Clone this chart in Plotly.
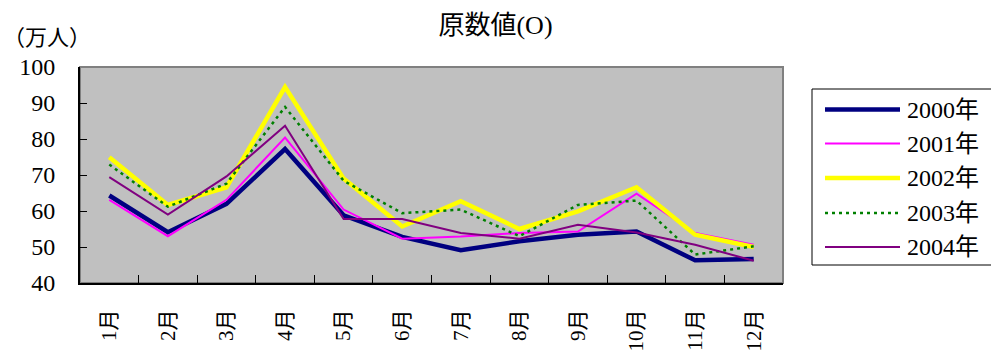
import plotly.graph_objects as go

# Monthly visitor counts (unit: 10,000 people)
months = ["1月", "2月", "3月", "4月", "5月", "6月", "7月", "8月", "9月", "10月", "11月", "12月"]
y2000 = [64.3, 54.1, 62.0, 77.2, 58.8, 52.8, 49.1, 51.6, 53.4, 54.3, 46.3, 46.7]
y2001 = [63.1, 53.0, 63.1, 80.4, 60.4, 52.3, 52.9, 53.9, 54.3, 64.8, 53.9, 50.6]
y2002 = [74.9, 61.7, 66.6, 94.4, 69.0, 55.7, 62.7, 55.0, 59.9, 66.6, 53.4, 50.0]
y2003 = [72.9, 61.2, 67.6, 88.9, 68.4, 59.4, 60.4, 53.0, 61.7, 62.9, 47.9, 50.2]
y2004 = [69.4, 59.0, 69.6, 83.7, 57.8, 57.8, 53.9, 52.3, 56.2, 54.0, 50.6, 46.2]
series_names = ["2000年", "2001年", "2002年", "2003年", "2004年"]
y_ticks = [40, 50, 60, 70, 80, 90, 100]

FONT = "Liberation Serif, 'Noto Sans CJK JP', serif"

styles = [
    dict(color="#000080", width=4.5, dash="solid"),
    dict(color="#FF00FF", width=2, dash="solid"),
    dict(color="#FFFF00", width=4.5, dash="solid"),
    dict(color="#008000", width=2.5, dash="3px,4px"),
    dict(color="#800080", width=2, dash="solid"),
]

W, H = 991, 356
L, R, T, B = 80, 208, 67, 73
PW, PH = W - L - R, H - T - B


def px_x(px):
    return (px - L) / PW


def px_y(py):
    return (H - B - py) / PH


fig = go.Figure()
for name, vals, st in zip(series_names, [y2000, y2001, y2002, y2003, y2004], styles):
    fig.add_trace(go.Scatter(x=months, y=vals, mode="lines", name=name,
                             line=st, showlegend=False))

shapes = [
    # plot frame (grey top/right edges)
    dict(type="rect", xref="paper", yref="paper", x0=0, x1=1, y0=0, y1=1,
         line=dict(color="#808080", width=2), fillcolor="#C0C0C0", layer="below"),
    # legend box
    dict(type="rect", xref="paper", yref="paper",
         x0=px_x(812), x1=px_x(1000), y0=px_y(265), y1=px_y(89),
         line=dict(color="black", width=1), fillcolor="white", layer="above"),
]
annotations = []
legend_rows = [109.5, 143.5, 178, 213, 247]
for name, st, row in zip(series_names, styles, legend_rows):
    shapes.append(dict(type="line", xref="paper", yref="paper",
                       x0=px_x(825), x1=px_x(900), y0=px_y(row), y1=px_y(row),
                       line=st, layer="above"))
    annotations.append(dict(xref="paper", yref="paper", x=px_x(905), y=px_y(row),
                            text=name, showarrow=False, xanchor="left", yanchor="middle",
                            font=dict(family=FONT, size=24, color="black")))

annotations.append(dict(xref="paper", yref="paper", x=px_x(47), y=px_y(38),
                        text="（万人）", showarrow=False, xanchor="center", yanchor="middle",
                        font=dict(family=FONT, size=22, color="black")))

fig.update_layout(
    width=W, height=H,
    margin=dict(l=L, r=R, t=T, b=B, pad=0, autoexpand=False),
    paper_bgcolor="white", plot_bgcolor="#C0C0C0",
    title=dict(text="原数値(O)", x=0.5, xref="container", xanchor="center",
               y=1 - 25 / H, yref="container", yanchor="middle",
               font=dict(family=FONT, size=26, color="black")),
    shapes=shapes, annotations=annotations,
    showlegend=False,
)
fig.update_xaxes(
    type="category", range=[-0.5, len(months) - 0.5], automargin=False,
    tickson="boundaries", ticks="inside", ticklen=8, tickwidth=1, tickcolor="black",
    showline=True, linecolor="black", linewidth=2, showgrid=False, zeroline=False,
    tickangle=-90, ticklabelstandoff=16,
    tickfont=dict(family=FONT, size=21, color="black"),
)
fig.update_yaxes(
    range=[40, 100], tickvals=y_ticks, ticktext=[str(v) for v in y_ticks], automargin=False,
    ticks="inside", ticklen=7, tickwidth=1, tickcolor="black",
    showline=True, linecolor="black", linewidth=2, showgrid=False, zeroline=False,
    ticklabelstandoff=18,
    tickfont=dict(family=FONT, size=24, color="black"),
)

fig.write_html("out.html")
